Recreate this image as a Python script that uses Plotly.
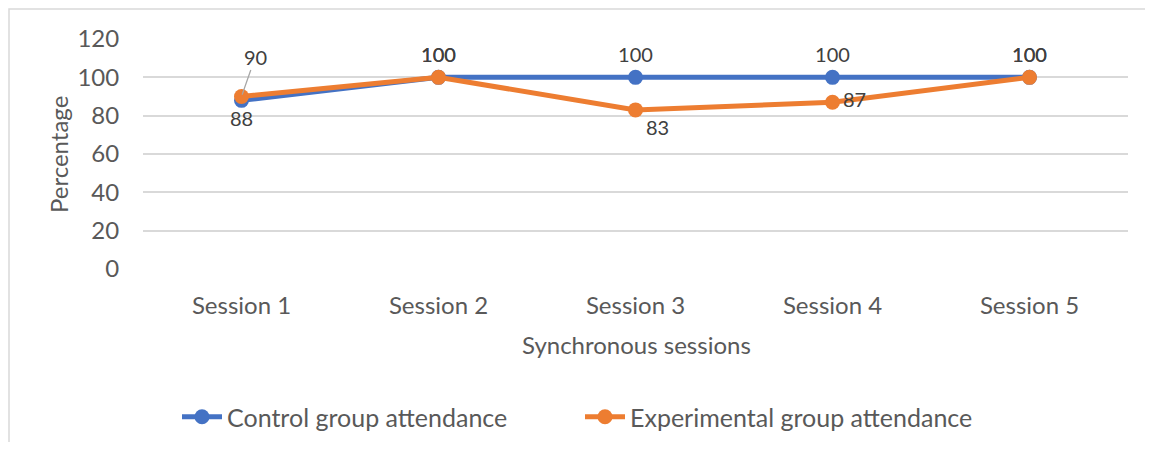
import plotly.graph_objects as go

sessions = ["Session 1", "Session 2", "Session 3", "Session 4", "Session 5"]
control = [88, 100, 100, 100, 100]
experimental = [90, 100, 83, 87, 100]
y_ticks = [0, 20, 40, 60, 80, 100, 120]

BLUE = "#4472C4"
ORANGE = "#ED7D31"
TXT = "#595959"
LBL = "#404040"
GRID = "#d9d9d9"
FONT = "Lato, Carlito, Calibri, sans-serif"

OFF = 8  # page body margin
W, H = 1137, 434
L, R, T, B = 135, 17, 31, 173
pw = W - L - R
ph = H - T - B

def px(x):
    return (x - OFF - L) / pw

def py(y):
    return (H - B - (y - OFF)) / ph

fig = go.Figure()
fig.add_trace(go.Scatter(
    x=sessions, y=control, name="Control group attendance",
    mode="lines+markers+text",
    line=dict(color=BLUE, width=5),
    marker=dict(color=BLUE, size=15),
    text=[str(v) for v in control],
    textposition=["bottom center", "top center", "top center", "top center", "top center"],
    textfont=dict(family=FONT, size=20, color=LBL),
))
exp_text = [str(v) for v in experimental]
exp_text[0] = ""
fig.add_trace(go.Scatter(
    x=sessions, y=experimental, name="Experimental group attendance",
    mode="lines+markers+text",
    line=dict(color=ORANGE, width=5),
    marker=dict(color=ORANGE, size=15),
    text=exp_text,
    textposition=["top center", "top center", "bottom right", "middle right", "top center"],
    textfont=dict(family=FONT, size=20, color=LBL),
))

fig.add_annotation(
    x=sessions[0], y=experimental[0], text=str(experimental[0]),
    showarrow=True, arrowhead=0, arrowwidth=1.3, arrowcolor="#a6a6a6",
    ax=14, ay=-40, font=dict(family=FONT, size=20, color=LBL),
    standoff=2,
)

fig.add_annotation(
    xref="paper", yref="paper", x=px(58), y=py(155),
    xanchor="center", yanchor="middle",
    text="Percentage", textangle=-90, showarrow=False,
    font=dict(family=FONT, size=24, color=TXT),
)
fig.add_annotation(
    xref="paper", yref="paper", x=px(636), y=py(345),
    xanchor="center", yanchor="middle",
    text="Synchronous sessions", showarrow=False,
    font=dict(family=FONT, size=24, color=TXT),
)

fig.add_shape(
    type="rect", xref="paper", yref="paper",
    x0=px(OFF + 1), x1=px(1200), y0=py(520), y1=py(OFF + 1),
    line=dict(color=GRID, width=1.5), fillcolor="rgba(0,0,0,0)", layer="below",
)

fig.update_layout(
    width=W, height=H,
    margin=dict(l=L, r=R, t=T, b=B, autoexpand=False),
    paper_bgcolor="white", plot_bgcolor="white",
    font=dict(family=FONT, color=TXT),
    showlegend=True,
    legend=dict(
        orientation="h", x=px(580), xanchor="center", y=py(417), yanchor="middle",
        font=dict(family=FONT, size=25, color=TXT), itemwidth=40,
        entrywidth=348, traceorder="normal",
    ),
    xaxis=dict(
        type="category", range=[-0.5, 4.5], showgrid=False, showline=False,
        zeroline=False, ticks="outside", ticklen=15, tickcolor="rgba(0,0,0,0)",
        tickfont=dict(family=FONT, size=24, color=TXT),
    ),
    yaxis=dict(
        range=[0, 120], tickvals=y_ticks, showgrid=True, gridcolor=GRID, gridwidth=1.5,
        zeroline=False, showline=False, ticks="outside", ticklen=18,
        tickcolor="rgba(0,0,0,0)",
        tickfont=dict(family=FONT, size=24, color=TXT),
    ),
)

fig.write_html("out.html")
